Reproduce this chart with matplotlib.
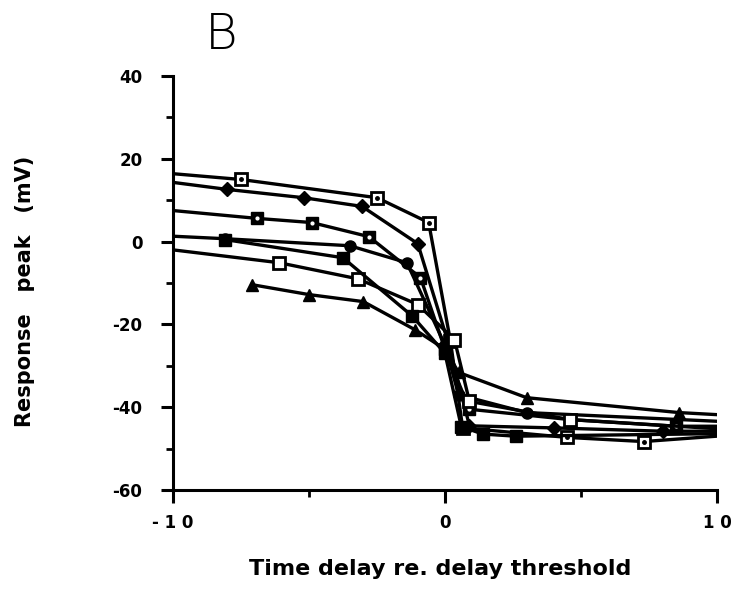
import numpy as np
import matplotlib
matplotlib.use("Agg")
from matplotlib import pyplot as plt
from matplotlib import ticker

# time delay re. delay threshold / response peak (mV), one pair per curve
x1 = [-10, -7.5, -2.5, -0.6, 0.2, 0.65, 4.5, 7.3, 10]
y1 = [16.4, 15.0, 10.6, 4.6, -24.0, -45.0, -47.3, -48.3, -47.0]

x2 = [-10, -8.0, -5.2, -3.05, -1.0, 0.1, 0.9, 4.0, 8.0, 10]
y2 = [14.3, 12.6, 10.6, 8.5, -0.5, -24.0, -44.5, -45.0, -45.8, -45.8]

x3 = [-10, -6.9, -4.9, -2.8, -0.9, 0.0, 0.9, 4.6, 8.5, 10]
y3 = [7.5, 5.6, 4.6, 1.2, -8.7, -26.0, -40.5, -43.0, -44.6, -44.6]

x4 = [-10, -8.1, -3.5, -1.4, 0.0, 0.5, 3.0, 10]
y4 = [1.3, 0.7, -1.0, -5.1, -25.0, -37.0, -41.3, -43.4]

x5 = [-10, -6.1, -3.2, -1.0, 0.35, 0.9, 4.6, 10]
y5 = [-2.0, -5.1, -9.0, -15.2, -23.7, -38.6, -43.0, -45.2]

x6 = [-7.1, -5.0, -3.0, -1.1, 0.0, 0.5, 3.0, 8.6, 10]
y6 = [-10.4, -12.8, -14.5, -21.3, -26.0, -31.6, -37.7, -41.3, -41.8]

x7 = [-8.1, -3.75, -1.2, 0.0, 0.6, 1.4, 2.6, 10]
y7 = [0.5, -3.9, -18.0, -27.0, -44.7, -46.5, -47.0, -46.4]

xtick_vals = [-10, 0, 10]
xtick_text = ["- 1 0", "0", "1 0"]
ytick_vals = [-60, -40, -20, 0, 20, 40]
ytick_text = ["-60", "-40", "-20", "0", "20", "40"]


fig = plt.figure(figsize=(7.38, 5.9), dpi=100)
ax = fig.add_axes([0.2344, 0.1695, 0.7371, 0.7017])

lw = 2.4
ms = 8
mid = slice(1, -1)    # curves drawn from the axis edge: no marker at the ends
head = slice(0, -1)   # curves starting on a marker
ax.plot(x1, y1, "-s", color="k", lw=lw, ms=ms, mfc="white", mec="k", mew=2,
        markevery=mid)
ax.plot(x1[mid], y1[mid], "o", color="k", ms=2.5, ls="none")
ax.plot(x2, y2, "-D", color="k", lw=lw, ms=ms - 1, markevery=mid)
ax.plot(x3, y3, "-s", color="k", lw=lw, ms=ms + 1, markevery=mid)
ax.plot(x3[mid], y3[mid], "o", color="white", ms=2, ls="none")
ax.plot(x4, y4, "-o", color="k", lw=lw, ms=ms, markevery=mid)
ax.plot(x5, y5, "-s", color="k", lw=lw, ms=ms, mfc="white", mec="k", mew=2,
        markevery=mid)
ax.plot(x6, y6, "-^", color="k", lw=lw, ms=ms + 1, markevery=head)
ax.plot(x7, y7, "-s", color="k", lw=lw, ms=ms + 1, markevery=head)

ax.set_xlim(-10, 10)
ax.set_ylim(-60, 40)
ax.spines["top"].set_visible(False)
ax.spines["right"].set_visible(False)
ax.spines["left"].set_linewidth(2.2)
ax.spines["bottom"].set_linewidth(2.2)

ax.set_xticks(xtick_vals)
ax.set_xticklabels(xtick_text)
ax.xaxis.set_minor_locator(ticker.MultipleLocator(5))
ax.set_yticks(ytick_vals)
ax.set_yticklabels(ytick_text)
ax.yaxis.set_minor_locator(ticker.MultipleLocator(10))
ax.tick_params(axis="both", which="major", length=9, width=2.2, direction="out",
               labelsize=12)
ax.tick_params(axis="x", which="major", pad=8)
ax.tick_params(axis="y", which="major", pad=13)
ax.tick_params(axis="both", which="minor", length=5, width=2, direction="out")
for lab in ax.get_xticklabels() + ax.get_yticklabels():
    lab.set_fontweight("bold")
    lab.set_family("DejaVu Sans")

ax.set_xlabel("Time delay re. delay threshold", fontsize=16, fontweight="bold",
              family="DejaVu Sans")
ax.xaxis.set_label_coords(0.491, -0.167)
ax.set_ylabel("Response   peak   (mV)", fontsize=15, fontweight="bold",
              family="DejaVu Sans")
ax.yaxis.set_label_coords(-0.254, 0.48)

fig.text(0.3, 0.94, "B", fontsize=36, ha="center", va="center",
         family="DejaVu Sans", fontweight="light")

fig.savefig("out.png", dpi=100)
